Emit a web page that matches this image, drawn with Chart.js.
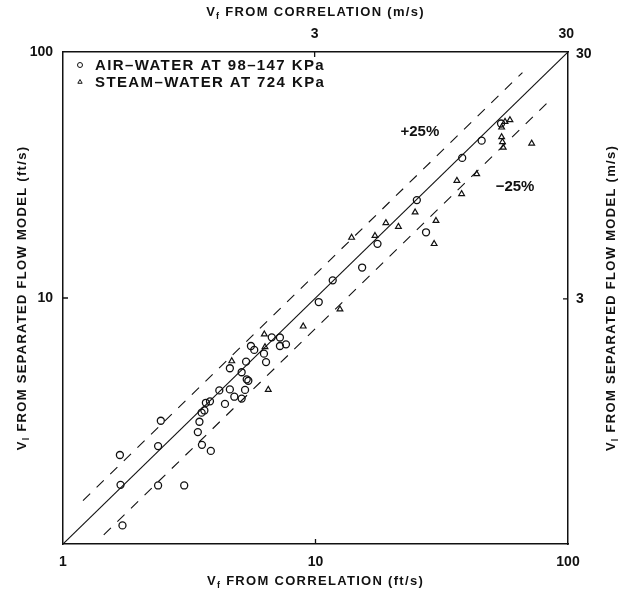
<!DOCTYPE html>
<html>
<head>
<meta charset="utf-8">
<script src="https://cdn.jsdelivr.net/npm/chart.js@4.4.1/dist/chart.umd.min.js"></script>
<style>
  html, body { margin: 0; padding: 0; background: #fff; }
</style>
</head>
<body>
<canvas id="chart" width="633" height="597"></canvas>
<script>
// values (ft/s)
const airX = [1.68, 1.69, 1.72, 2.38, 2.44, 2.38, 3.02, 3.42, 3.47, 3.54, 3.63, 3.68, 3.82, 3.55, 3.85,
  4.38, 4.16, 4.58, 4.77, 5.10, 5.26, 4.58, 5.10, 5.31, 5.34, 5.42, 5.55, 5.72, 6.25, 6.37,
  6.71, 7.23, 7.23, 7.64, 10.3, 11.7, 15.3, 17.6, 27.4, 25.2, 38.1, 45.5, 54.3];
const airY = [2.30, 1.74, 1.19, 2.50, 3.17, 1.73, 1.73, 2.85, 3.14, 3.42, 3.49, 3.75, 3.80, 2.53, 2.39,
  3.71, 4.21, 4.25, 3.97, 3.90, 4.23, 5.18, 4.99, 5.51, 4.67, 4.61, 6.38, 6.15, 5.94, 5.49,
  6.92, 6.91, 6.38, 6.48, 9.63, 11.8, 13.3, 16.6, 18.5, 25.0, 37.1, 43.6, 51.2];

const steamX = [4.66, 6.27, 6.31, 6.50, 8.94, 12.5, 13.9, 17.2, 19.0, 21.3, 24.8, 30.0, 29.5,
  36.3, 37.9, 43.5, 54.6, 55.0, 55.4, 56.3, 58.9, 71.8, 54.6];
const steamY = [5.54, 7.12, 6.32, 4.24, 7.67, 9.00, 17.6, 17.9, 20.2, 19.5, 22.3, 20.6, 16.6,
  30.0, 26.5, 31.9, 45.1, 43.1, 40.9, 52.1, 52.9, 42.5, 49.4];

// reference lines: perfect agreement and +/-25 % bands
const equalLine = [[1, 1], [100, 100]];
const plusLine = [[1.2, 1.5], [66, 82.5]];
const minusLine = [[1.45, 1.09], [85, 63.8]];

const legendLabels = ['AIR\u2013WATER AT 98\u2013147 KPa', 'STEAM\u2013WATER AT 724 KPa'];
const bandLabels = [['+25%', 25.9, 47.3], ['\u221225%', 61.7, 28.3]];

const ftTicksX = [1, 10, 100];
const ftTicksY = [10, 100];
const msTicks = [3, 30];
const FT = 3.2808;

function pts(xs, ys) { return xs.map((x, i) => ({ x: x, y: ys[i] })); }
function pairs(p) { return p.map(v => ({ x: v[0], y: v[1] })); }

const INK = '#111';
const tickFont = { family: 'Liberation Sans', size: 14, weight: 'bold' };

function drawLabel(ctx, main, sub, rest, x, y, rot) {
  ctx.save();
  ctx.translate(x, y);
  if (rot) ctx.rotate(-Math.PI / 2);
  ctx.letterSpacing = '1.3px';
  ctx.textBaseline = 'alphabetic';
  ctx.font = 'bold 13px "Liberation Sans"';
  const w1 = ctx.measureText(main).width;
  const w3 = ctx.measureText(rest).width;
  ctx.font = 'bold 9px "Liberation Sans"';
  const w2 = ctx.measureText(sub).width;
  let cx = -(w1 + w2 + w3) / 2;
  ctx.font = 'bold 13px "Liberation Sans"';
  ctx.fillText(main, cx, 5);
  cx += w1;
  ctx.font = 'bold 9px "Liberation Sans"';
  ctx.fillText(sub, cx, 8);
  cx += w2;
  ctx.font = 'bold 13px "Liberation Sans"';
  ctx.fillText(rest, cx, 5);
  ctx.restore();
}

const paperText = {
  id: 'paperText',
  afterDraw(chart) {
    const { ctx, chartArea: a, scales } = chart;
    ctx.save();
    ctx.fillStyle = INK;
    const mid = (a.left + a.right) / 2;
    const midY = (a.top + a.bottom) / 2;
    drawLabel(ctx, 'V', 'f', ' FROM CORRELATION (ft/s)', mid, 580, false);
    drawLabel(ctx, 'V', 'f', ' FROM CORRELATION (m/s)', mid, 11, false);
    drawLabel(ctx, 'V', 'l', ' FROM SEPARATED FLOW MODEL (ft/s)', 21, midY, true);
    drawLabel(ctx, 'V', 'l', ' FROM SEPARATED FLOW MODEL (m/s)', 610, midY, true);

    // short inward tick marks
    ctx.strokeStyle = INK;
    ctx.lineWidth = 1.3;
    ctx.beginPath();
    const bx = scales.x.getPixelForValue(10);
    ctx.moveTo(bx, a.bottom); ctx.lineTo(bx, a.bottom - 5);
    const ly = scales.y.getPixelForValue(10);
    ctx.moveTo(a.left, ly); ctx.lineTo(a.left + 5, ly);
    const tx = scales.x2.getPixelForValue(3);
    ctx.moveTo(tx, a.top); ctx.lineTo(tx, a.top + 5);
    const ry = scales.y2.getPixelForValue(3);
    ctx.moveTo(a.right, ry); ctx.lineTo(a.right - 5, ry);
    ctx.stroke();

    // legend inside the plot
    const ds = chart.data.datasets;
    legendLabels.forEach((txt, i) => {
      const d = ds[i];
      const y = a.top + 13 + i * 17;
      ctx.strokeStyle = INK;
      ctx.fillStyle = '#fff';
      ctx.lineWidth = 1;
      Chart.helpers.drawPoint(ctx, { pointStyle: d.pointStyle, radius: 2.5, rotation: 0, borderWidth: 1 }, a.left + 17, y);
      ctx.fillStyle = INK;
      ctx.font = 'bold 15px "Liberation Sans"';
      ctx.letterSpacing = '1.4px';
      ctx.textBaseline = 'middle';
      ctx.fillText(txt, a.left + 32, y + 1);
    });

    // band labels
    ctx.font = 'bold 15px "Liberation Sans"';
    ctx.letterSpacing = '0px';
    ctx.textAlign = 'center';
    ctx.textBaseline = 'middle';
    bandLabels.forEach(b => {
      ctx.fillText(b[0], scales.x.getPixelForValue(b[1]), scales.y.getPixelForValue(b[2]));
    });
    ctx.restore();
  }
};

function fixTicks(list) {
  return function (scale) { scale.ticks = list.map(v => ({ value: v })); };
}

const noGrid = { display: false, drawTicks: false };
const frame = { display: true, color: INK, width: 1.5 };

new Chart(document.getElementById('chart'), {
  type: 'scatter',
  data: {
    datasets: [
      {
        label: legendLabels[0],
        data: pts(airX, airY),
        pointStyle: 'circle',
        pointRadius: 3.5,
        borderColor: INK,
        backgroundColor: 'rgba(255,255,255,0)',
        borderWidth: 1.3
      },
      {
        label: legendLabels[1],
        data: pts(steamX, steamY),
        pointStyle: 'triangle',
        pointRadius: 3.3,
        borderColor: INK,
        backgroundColor: 'rgba(255,255,255,0)',
        borderWidth: 1.2
      },
      {
        label: 'equal',
        data: pairs(equalLine),
        showLine: true,
        pointRadius: 0,
        borderColor: INK,
        borderWidth: 1.1
      },
      {
        label: '+25%',
        data: pairs(plusLine),
        showLine: true,
        pointRadius: 0,
        borderColor: INK,
        borderWidth: 1.1,
        borderDash: [10, 9]
      },
      {
        label: '-25%',
        data: pairs(minusLine),
        showLine: true,
        pointRadius: 0,
        borderColor: INK,
        borderWidth: 1.1,
        borderDash: [10, 9]
      }
    ]
  },
  options: {
    responsive: false,
    animation: false,
    layout: { padding: 0 },
    plugins: {
      legend: { display: false },
      tooltip: { enabled: false }
    },
    scales: {
      x: {
        type: 'logarithmic', position: 'bottom', min: 1, max: 100,
        grid: noGrid, border: frame,
        afterBuildTicks: fixTicks(ftTicksX),
        afterFit: s => { s.height = 53; },
        ticks: { color: INK, font: tickFont, padding: 10, maxRotation: 0, callback: v => String(v) }
      },
      x2: {
        type: 'logarithmic', position: 'top', min: 1 / FT, max: 100 / FT,
        grid: noGrid, border: frame,
        afterBuildTicks: fixTicks(msTicks),
        afterFit: s => { s.height = 52; },
        ticks: { color: INK, font: tickFont, padding: 9, maxRotation: 0, callback: v => String(v) }
      },
      y: {
        type: 'logarithmic', position: 'left', min: 1, max: 100,
        grid: noGrid, border: frame,
        afterBuildTicks: fixTicks(ftTicksY),
        afterFit: s => { s.width = 63; },
        ticks: { color: INK, font: tickFont, padding: 10, callback: v => String(v) }
      },
      y2: {
        type: 'logarithmic', position: 'right', min: 1 / FT, max: 100 / FT,
        grid: noGrid, border: frame,
        afterBuildTicks: fixTicks(msTicks),
        afterFit: s => { s.width = 65; },
        ticks: { color: INK, font: tickFont, padding: 8, callback: v => String(v) }
      }
    }
  },
  plugins: [paperText]
});
</script>
</body>
</html>
